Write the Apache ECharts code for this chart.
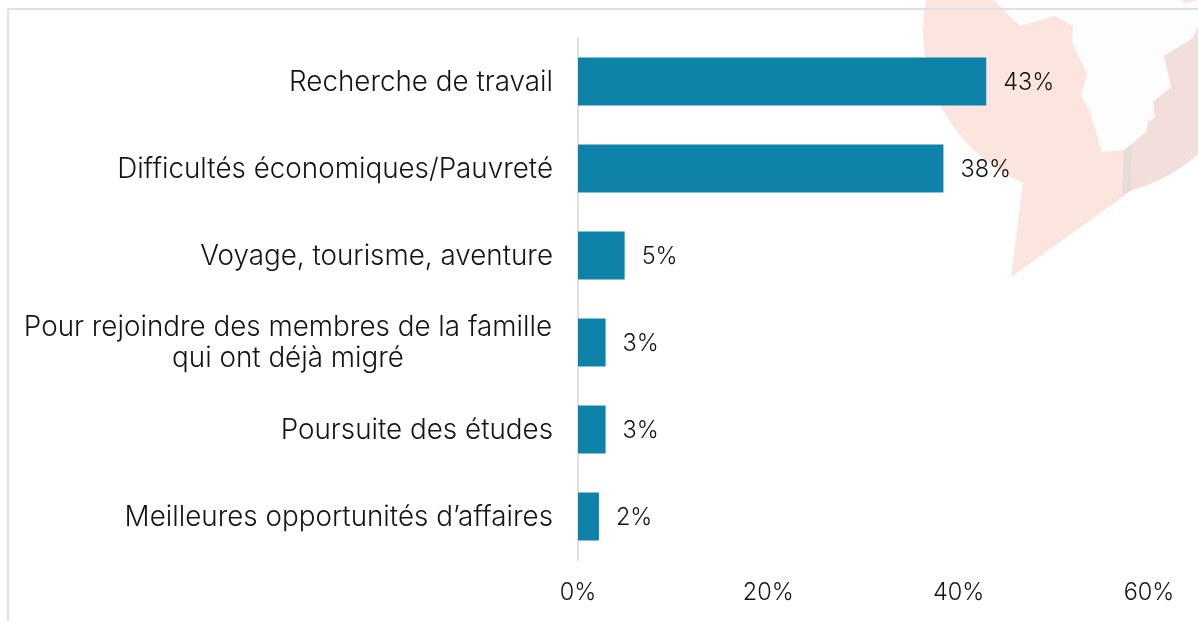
<!DOCTYPE html>
<html>
<head>
<meta charset="utf-8">
<style>
html, body { margin: 0; padding: 0; background: #fff; }
#main { width: 1198px; height: 621px; }
</style>
<script src="https://cdn.jsdelivr.net/npm/echarts@6/dist/echarts.min.js"></script>
</head>
<body>
<div id="main"></div>
<script>
var categories = [
    'Recherche de travail',
    'Difficultés économiques/Pauvreté',
    'Voyage, tourisme, aventure',
    'Pour rejoindre des membres de la famille\nqui ont déjà migré',
    'Poursuite des études',
    'Meilleures opportunités d’affaires'
];
var values = [42.9, 38.4, 4.9, 2.9, 2.9, 2.2];
var tickMax = 60;
var tickStep = 20;

var fontName = 'Inter';
var textColor = '#141414';
var catSize = 27.8;
var numSize = 23.5;

// decoration behind the chart (map pin)
var pinCenter = [1088, 31], pinRadius = 165;
var whiteShape = [[993,0],[1020,26],[1055,16],[1073,26],[1072,42],[1087,74],[1081,96],[1089,109],[1102,152],
    [1124,150],[1132,144],[1146,132],[1148,122],[1155,117],[1153,102],[1171,87],[1164,56],[1193,38],[1198,25],[1198,0]];

function pinkShape() {
    var pts = [[1132,144],[1146,132],[1148,122],[1155,117],[1153,102],[1171,87],[1164,56],[1193,38],[1198,30]];
    // follow the circle from the right edge back to the grey band
    for (var a = 48; a <= 76; a += 2) {
        var r = a * Math.PI / 180;
        pts.push([pinCenter[0] + pinRadius * Math.cos(r), pinCenter[1] + pinRadius * Math.sin(r)]);
    }
    return pts;
}

var myChart = echarts.init(document.getElementById('main'));

var option = {
    backgroundColor: '#fff',
    animation: false,
    graphic: [
        { type: 'circle', shape: { cx: pinCenter[0], cy: pinCenter[1], r: pinRadius }, style: { fill: '#fbe5de' }, z: -10 },
        { type: 'polygon', shape: { points: [[1023,183],[1011,277],[1124,196],[1124,170]] }, style: { fill: '#fbe5de' }, z: -10 },
        { type: 'polygon', shape: { points: pinkShape() }, style: { fill: '#f2dedb' }, z: -9 },
        { type: 'polygon', shape: { points: [[1124,150],[1132,144],[1131,191],[1122,196]] }, style: { fill: '#e5dcd9' }, z: -8 },
        { type: 'polygon', shape: { points: whiteShape }, style: { fill: '#fdfdfd' }, z: -7 },
        { type: 'polygon', shape: { points: [[1181,0],[1187,3],[1198,0]] }, style: { fill: '#fbe5de' }, z: -6 },
        { type: 'line', shape: { x1: 8, y1: 9, x2: 1198, y2: 9 }, style: { stroke: '#e0e0e0', lineWidth: 2 }, z: -5 },
        { type: 'line', shape: { x1: 8, y1: 9, x2: 8, y2: 621 }, style: { stroke: '#e0e0e0', lineWidth: 2 }, z: -5 }
    ],
    grid: { left: 578, right: 49, top: 38, bottom: 61 },
    xAxis: {
        type: 'value',
        min: 0,
        max: tickMax,
        interval: tickStep,
        splitLine: { show: false },
        axisLine: { show: false },
        axisTick: { show: false },
        axisLabel: {
            formatter: '{value}%',
            color: textColor,
            fontFamily: fontName,
            fontWeight: 300,
            fontSize: numSize,
            margin: 21
        }
    },
    yAxis: {
        type: 'category',
        inverse: true,
        data: categories,
        axisLine: { lineStyle: { color: '#e0e0e0', width: 2 } },
        axisTick: { show: false },
        axisLabel: {
            color: textColor,
            fontFamily: fontName,
            fontWeight: 300,
            fontSize: catSize,
            margin: 25,
            lineHeight: 31,
            padding: [2, 0, 0, 0],
            formatter: function (v) {
                if (v.indexOf('\n') < 0) return v;
                return v.split('\n').map(function (s) { return '{c|' + s + '}'; }).join('\n');
            },
            rich: {
                c: { width: 530, align: 'center', color: textColor, fontFamily: fontName, fontWeight: 300, fontSize: catSize, lineHeight: 31 }
            }
        }
    },
    series: [{
        type: 'bar',
        data: values,
        barWidth: 48,
        itemStyle: { color: '#0f82a9' },
        label: {
            show: true,
            position: 'right',
            distance: 17,
            color: textColor,
            fontFamily: fontName,
            fontWeight: 300,
            fontSize: numSize,
            offset: [0, 1],
            formatter: function (p) { return Math.round(p.value) + '%'; }
        }
    }]
};

myChart.setOption(option);
</script>
</body>
</html>
